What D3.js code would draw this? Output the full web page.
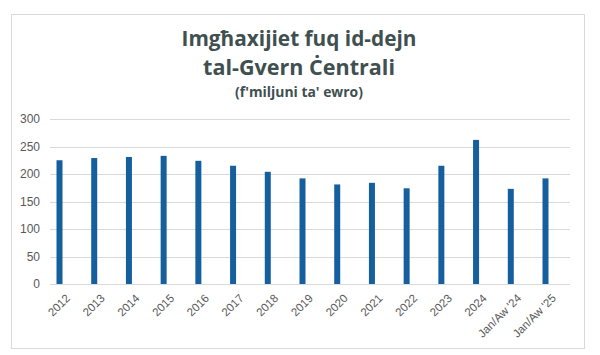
<!DOCTYPE html>
<html>
<head>
<meta charset="utf-8">
<script src="https://cdn.jsdelivr.net/npm/d3@7"></script>
<style>
  html, body { margin: 0; padding: 0; background: #ffffff; }
  svg { display: block; }
</style>
</head>
<body>
<svg id="chart" width="600" height="355"></svg>
<script>
const categories = ["2012","2013","2014","2015","2016","2017","2018","2019","2020","2021","2022","2023","2024","Jan/Aw '24","Jan/Aw '25"];
const values = [225, 229, 231, 233, 224, 215, 204, 192, 181, 184, 174, 215, 262, 173, 192];
const yTicks = [0, 50, 100, 150, 200, 250, 300];
const titleLines = ["Imgħaxijiet fuq id-dejn", "tal-Gvern Ċentrali"];
const subtitle = "(f'miljuni ta' ewro)";

const svg = d3.select("#chart");
const W = 600, H = 355;

svg.append("rect").attr("x", 0).attr("y", 0).attr("width", W).attr("height", H).attr("fill", "#fff");
// chart border
svg.append("rect").attr("x", 11.5).attr("y", 14.5).attr("width", 573).attr("height", 334)
  .attr("fill", "#fff").attr("stroke", "#d9d9d9").attr("stroke-width", 1);

const plotLeft = 50, plotRight = 570, plotTop = 119, plotBottom = 284;

const x = d3.scalePoint().domain(categories).range([59.5, 545.5]);
const y = d3.scaleLinear().domain([0, 300]).range([plotBottom, plotTop]);

// gridlines
svg.append("g").selectAll("line").data(yTicks).join("line")
  .attr("x1", plotLeft).attr("x2", plotRight)
  .attr("y1", d => Math.round(y(d)) + 0.5).attr("y2", d => Math.round(y(d)) + 0.5)
  .attr("stroke", "#d9d9d9").attr("stroke-width", 1);

// y axis labels
const yAxis = d3.axisLeft(y).tickValues(yTicks).tickSize(0).tickPadding(0);
const gy = svg.append("g").attr("transform", `translate(40,0)`).call(yAxis);
gy.select(".domain").remove();
gy.selectAll("text").attr("font-family", "'Liberation Sans', Arial, sans-serif")
  .attr("font-size", 12).attr("fill", "#595959");

// bars
const barW = 6;
svg.append("g").selectAll("rect").data(values).join("rect")
  .attr("x", (d, i) => x(categories[i]) - barW / 2)
  .attr("y", d => y(d))
  .attr("width", barW)
  .attr("height", d => y(0) - y(d))
  .attr("fill", "#165f9e");

// x labels
const xAxis = d3.axisBottom(x).tickSize(0).tickPadding(0);
const gx = svg.append("g").attr("transform", `translate(0,${plotBottom})`).call(xAxis);
gx.select(".domain").remove();
gx.selectAll("text")
  .attr("font-family", "'Liberation Sans', Arial, sans-serif")
  .attr("font-size", 11.5).attr("fill", "#595959")
  .attr("text-anchor", "end")
  .attr("dy", "0.35em")
  .attr("y", 0)
  .attr("transform", "translate(8,12) rotate(-45)");

// title
const titleFont = "'Open Sans', 'DejaVu Sans', sans-serif";
const titleColor = "#404f50";
function fitText(sel, targetW) {
  const w = sel.node().getComputedTextLength();
  const fs = parseFloat(sel.attr("font-size"));
  sel.attr("font-size", fs * targetW / w);
}
const t1 = svg.append("text").attr("x", 299).attr("y", 46).attr("text-anchor", "middle")
  .attr("font-family", titleFont).attr("font-weight", 700).attr("font-size", 19)
  .attr("fill", titleColor).text(titleLines[0]);
fitText(t1, 235);
const t2 = svg.append("text").attr("x", 299).attr("y", 75).attr("text-anchor", "middle")
  .attr("font-family", titleFont).attr("font-weight", 700).attr("font-size", 19)
  .attr("fill", titleColor).text(titleLines[1]);
fitText(t2, 192);
const t3 = svg.append("text").attr("x", 299).attr("y", 97).attr("text-anchor", "middle")
  .attr("font-family", titleFont).attr("font-weight", 700).attr("font-size", 12)
  .attr("fill", titleColor).text(subtitle);
fitText(t3, 128);
</script>
</body>
</html>
